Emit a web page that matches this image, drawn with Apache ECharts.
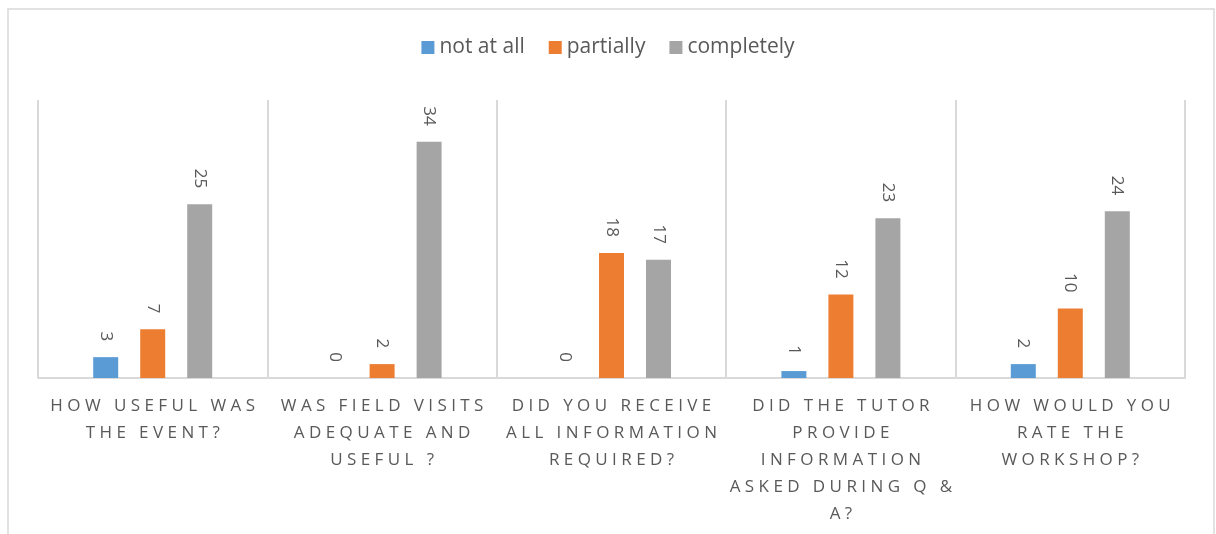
<!DOCTYPE html>
<html lang="en">
<head>
    <meta charset="UTF-8" />
    <title>Workshop feedback</title>
    <script src="https://cdn.jsdelivr.net/npm/echarts@6/dist/echarts.min.js"></script>
</head>
<style>
    body { margin: 0; background: #fff; }
    #main { width: 1216px; height: 534px; }
</style>
<body>
    <div id="main"></div>
</body>
<script type="text/javascript">
    var categories = [
        'HOW USEFUL WAS\nTHE EVENT?',
        'WAS FIELD VISITS\nADEQUATE AND\nUSEFUL ?',
        'DID YOU RECEIVE\nALL INFORMATION\nREQUIRED?',
        'DID THE TUTOR\nPROVIDE\nINFORMATION\nASKED DURING Q &\nA?',
        'HOW WOULD YOU\nRATE THE\nWORKSHOP?'
    ];
    var notAtAll = [3, 0, 0, 1, 2];
    var partially = [7, 2, 18, 12, 10];
    var completely = [25, 34, 17, 23, 24];

    // spread letters out like the original's letter spacing
    function spaced(s) {
        return s.split('\n').map(function (line) {
            return line.split(' ').map(function (w) {
                return w.split('').join(' ');
            }).join('   ');
        }).join('\n');
    }

    var barLabel = {
        show: true,
        position: 'top',
        rotate: -90,
        align: 'right',
        verticalAlign: 'middle',
        distance: 16,
        color: '#595959',
        fontSize: 17,
        fontFamily: 'Open Sans'
    };

    function makeSeries(name, data, color) {
        return {
            name: name,
            type: 'bar',
            data: data,
            barWidth: 25,
            barGap: '88%',
            itemStyle: { color: color },
            label: barLabel
        };
    }

    var chart = echarts.init(document.getElementById('main'));
    chart.setOption({
        animation: false,
        textStyle: { fontFamily: 'Open Sans' },
        graphic: [{
            type: 'rect',
            shape: { x: 8, y: 9, width: 1206, height: 600 },
            style: { fill: 'none', stroke: '#d9d9d9', lineWidth: 1.5 },
            silent: true
        }],
        legend: {
            top: 32,
            left: 'center',
            itemWidth: 13,
            itemHeight: 13,
            itemGap: 24,
            icon: 'rect',
            textStyle: { color: '#595959', fontSize: 21, fontFamily: 'Open Sans' },
            data: ['not at all', 'partially', 'completely']
        },
        grid: { left: 38, right: 31, top: 100, bottom: 156 },
        xAxis: {
            type: 'category',
            data: categories,
            axisLine: { lineStyle: { color: '#d9d9d9', width: 2 } },
            axisTick: { show: false },
            splitLine: { show: true, lineStyle: { color: '#d9d9d9', width: 2 } },
            axisLabel: {
                interval: 0,
                margin: 15,
                color: '#595959',
                fontSize: 17,
                lineHeight: 27,
                fontFamily: 'Open Sans',
                formatter: function (v) { return spaced(v); }
            }
        },
        yAxis: {
            type: 'value',
            min: 0,
            max: 40,
            show: false,
            splitLine: { show: false }
        },
        series: [
            makeSeries('not at all', notAtAll, '#5B9BD5'),
            makeSeries('partially', partially, '#ED7D31'),
            makeSeries('completely', completely, '#A5A5A5')
        ]
    });
</script>
</html>
